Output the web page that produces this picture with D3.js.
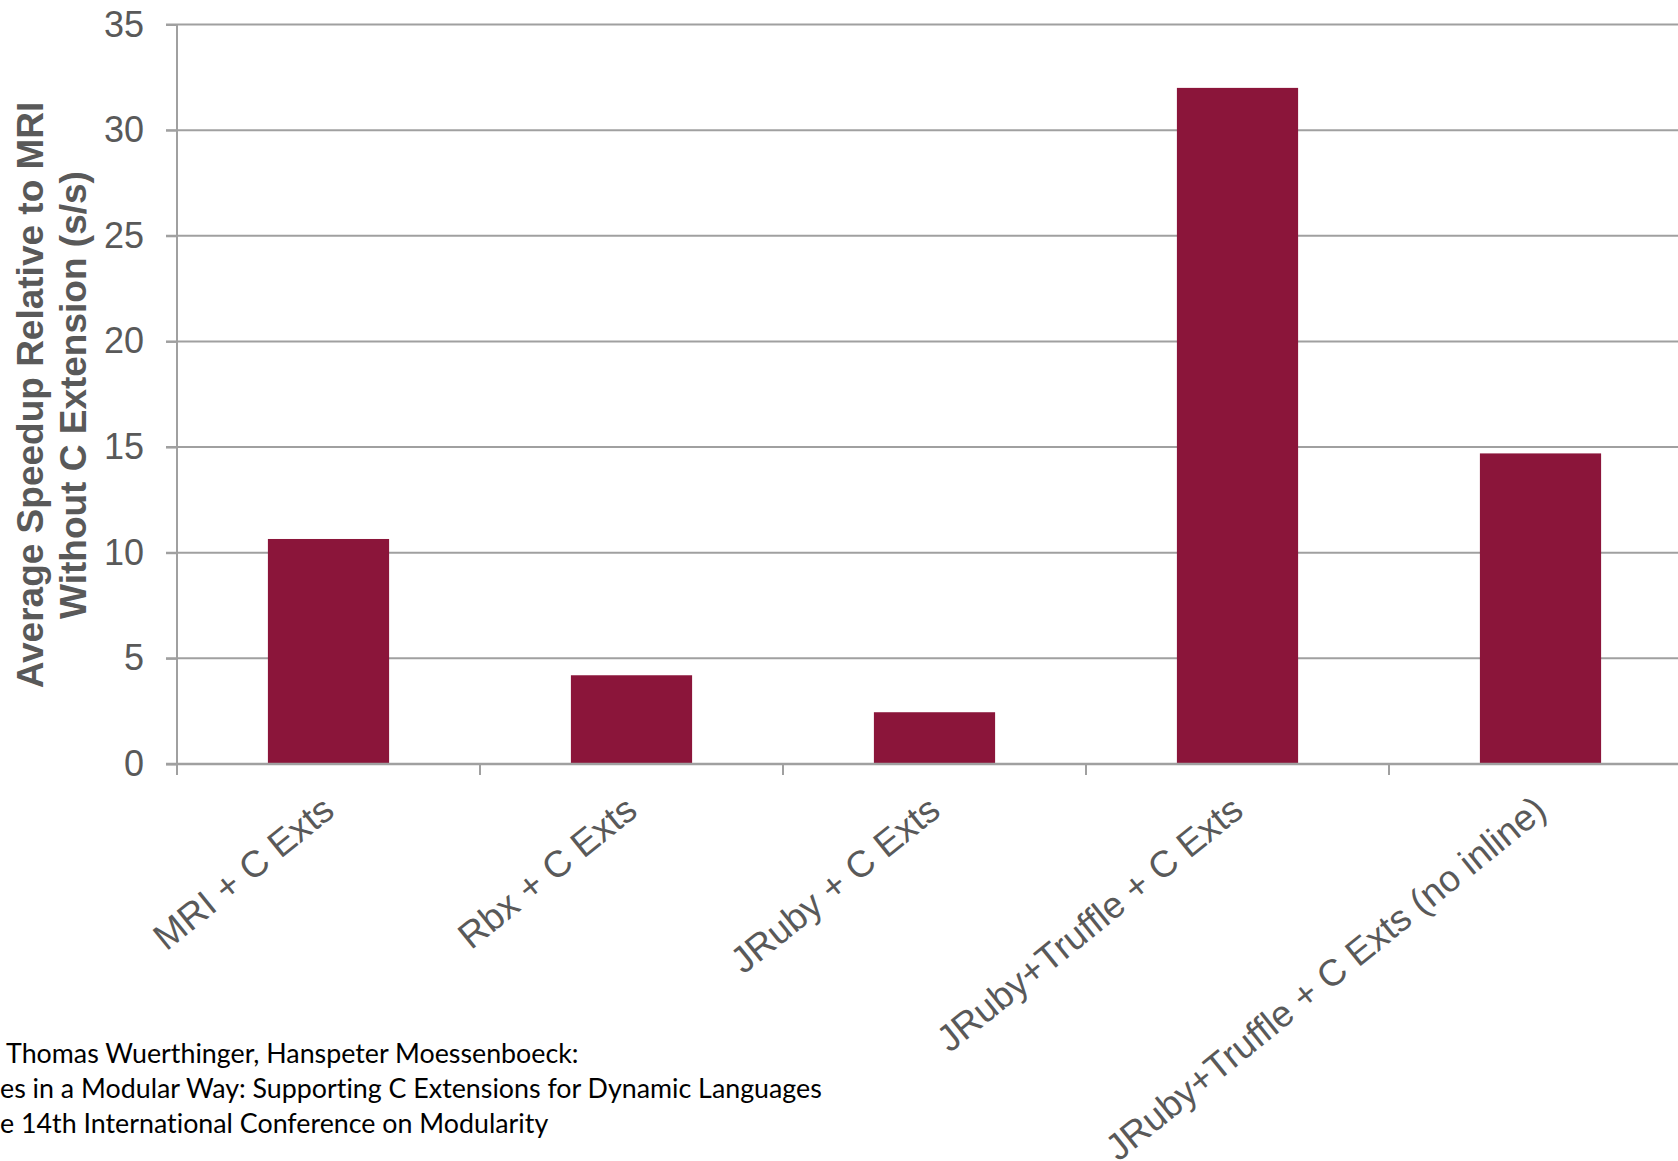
<!DOCTYPE html>
<html>
<head>
<meta charset="utf-8">
<script src="https://cdn.jsdelivr.net/npm/d3@7"></script>
<style>
  html, body { margin: 0; padding: 0; background: #fff; }
  svg { display: block; }
  text { font-variant-ligatures: none; }
</style>
</head>
<body>
<svg id="chart" width="1678" height="1161"></svg>
<script>
const categories = [
  "MRI + C Exts",
  "Rbx + C Exts",
  "JRuby + C Exts",
  "JRuby+Truffle + C Exts",
  "JRuby+Truffle + C Exts (no inline)"
];
const speedups = [10.65, 4.2, 2.45, 32.0, 14.7];
const yTicks = [0, 5, 10, 15, 20, 25, 30, 35];
const yTitleLines = ["Average Speedup Relative to MRI", "Without C Extension (s/s)"];
const footerLines = [
  " Thomas Wuerthinger, Hanspeter Moessenboeck:",
  "es in a Modular Way: Supporting C Extensions for Dynamic Languages",
  "e 14th International Conference on Modularity"
];

const svg = d3.select("#chart");
const plotLeft = 177, plotRight = 1692, plotTop = 24.5, plotBottom = 764;
const gray = "#a0a0a0", textGray = "#595959", barColor = "#8B153A";

const x = d3.scaleBand().domain(categories).range([plotLeft, plotRight]).paddingInner(0.6).paddingOuter(0.3);
const xb = d3.scaleBand().domain(categories).range([plotLeft, plotRight]);
const y = d3.scaleLinear().domain([0, 35]).range([plotBottom, plotTop]);

// gridlines
svg.append("g").selectAll("line").data(yTicks.filter(d => d > 0)).join("line")
  .attr("x1", plotLeft - 11).attr("x2", 1678)
  .attr("y1", d => y(d)).attr("y2", d => y(d))
  .attr("stroke", gray).attr("stroke-width", 2);

// y axis
const yAxis = d3.axisLeft(y).tickValues(yTicks).tickSize(11).tickPadding(22);
const gy = svg.append("g").attr("transform", `translate(${plotLeft},0)`).call(yAxis);
gy.select(".domain").attr("stroke", gray).attr("stroke-width", 2).attr("d", `M0,${plotTop}V${plotBottom + 11}`);
gy.selectAll(".tick line").attr("stroke", gray).attr("stroke-width", 2);
gy.selectAll(".tick text").attr("fill", textGray)
  .style("font-family", "Liberation Sans, Arial, sans-serif").style("font-size", "36px");

// bars
svg.append("g").selectAll("rect").data(categories).join("rect")
  .attr("x", d => x(d)).attr("width", x.bandwidth())
  .attr("y", (d, i) => y(speedups[i])).attr("height", (d, i) => y(0) - y(speedups[i]))
  .attr("fill", barColor);

// x axis baseline + ticks
svg.append("line").attr("x1", plotLeft - 11).attr("x2", 1678).attr("y1", plotBottom).attr("y2", plotBottom)
  .attr("stroke", gray).attr("stroke-width", 2.5);
svg.append("g").selectAll("line").data(categories).join("line")
  .attr("x1", d => xb(d)).attr("x2", d => xb(d))
  .attr("y1", plotBottom).attr("y2", plotBottom + 11)
  .attr("stroke", gray).attr("stroke-width", 2);

// x labels
svg.append("g").selectAll("text").data(categories).join("text")
  .attr("transform", d => `translate(${xb(d) + xb.bandwidth() / 2 + 8},${plotBottom + 50}) rotate(-39)`)
  .attr("text-anchor", "end")
  .attr("fill", textGray)
  .style("font-family", "Liberation Sans, Arial, sans-serif").style("font-size", "37px")
  .text(d => d);

// y title
const yt = svg.append("text")
  .attr("transform", `translate(52,395) rotate(-90)`)
  .attr("text-anchor", "middle")
  .attr("fill", textGray)
  .style("font-family", "Liberation Sans, Arial, sans-serif").style("font-size", "37px").style("font-weight", "bold");
yt.selectAll("tspan").data(yTitleLines).join("tspan")
  .attr("x", 0).attr("dy", (d, i) => i === 0 ? "-0.25em" : "1.17em")
  .text(d => d);

// footer
svg.append("g").selectAll("text").data(footerLines).join("text")
  .attr("x", 0).attr("y", (d, i) => 1063 + i * 35)
  .attr("fill", "#000")
  .style("font-family", "Lato, 'Open Sans', sans-serif").style("font-size", "26.8px")
  .style("white-space", "pre")
  .text(d => d);
</script>
</body>
</html>
